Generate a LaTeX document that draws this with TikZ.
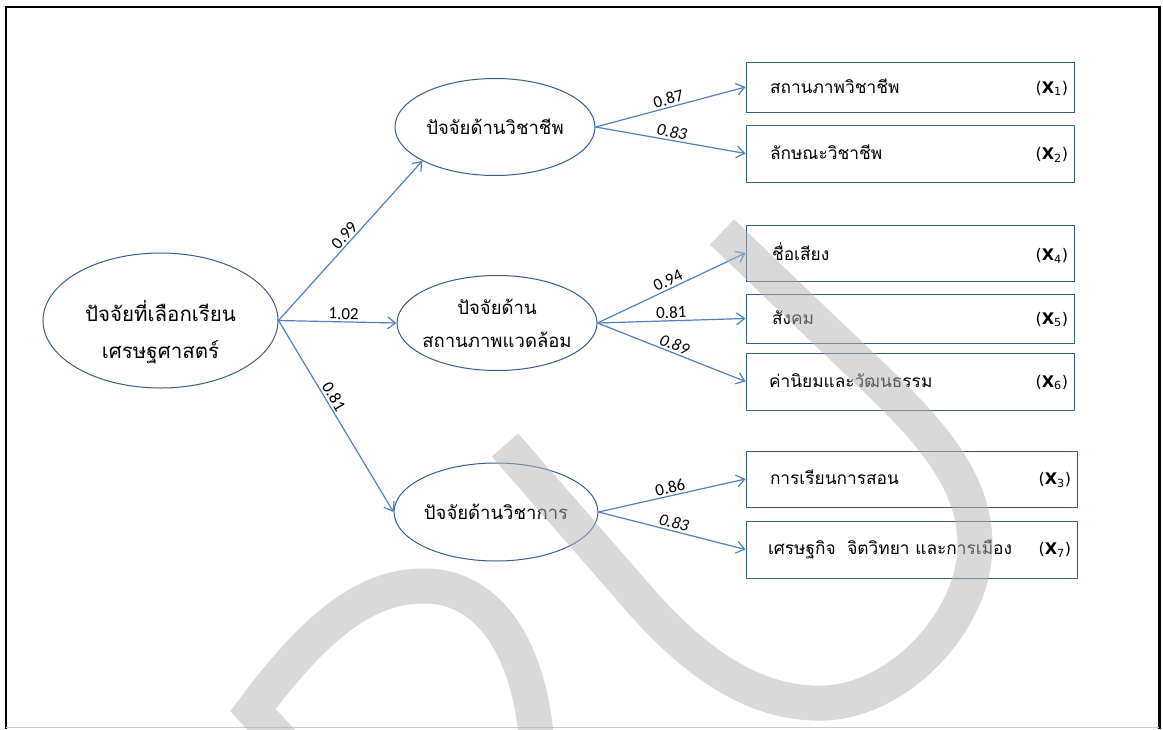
\documentclass[tikz,border=0pt]{standalone}
\usepackage{fontspec}
\newfontfamily\thaifont[Script=Thai]{Loma}
\newfontfamily\numfont{Carlito}
\newfontfamily\xfont{DejaVu Sans}
\usetikzlibrary{shapes.geometric,arrows.meta}

\definecolor{lineblue}{RGB}{79,129,189}
\definecolor{edgeblue}{RGB}{56,93,138}
\definecolor{wmgray}{RGB}{180,180,180}

\newcommand{\xvar}[1]{{\xfont\fontsize{16}{16}\selectfont(\textbf{X}\textsubscript{#1})}}

\tikzset{
  latent/.style={ellipse, draw=edgeblue, line width=1pt, minimum width=200pt,
    minimum height=97pt, inner sep=0pt, align=center,
    font=\thaifont\fontsize{18.5}{33}\selectfont},
  indicator/.style={rectangle, draw=edgeblue, line width=1pt, minimum width=328pt,
    text width=316pt, inner xsep=6pt, inner ysep=0pt, align=left,
    font=\thaifont\fontsize{17.3}{18}\selectfont},
  loadline/.style={draw=lineblue, line width=1.2pt,
    -{Straight Barb[length=8pt,width=12pt]}},
  coef/.style={font=\numfont\fontsize{17}{17}\selectfont, sloped, above, inner sep=2pt},
  wmark/.style={draw=wmgray, opacity=0.5, line width=35pt}
}

\begin{document}
\begin{tikzpicture}[x=1pt, y=-1pt]
\fill[white] ( 0, 0 ) rectangle ( 1163, 729 );
\useasboundingbox ( 0, 0 ) rectangle ( 1163, 729 );

% Rahmen
\draw[line width=2pt] ( 6, 729 ) -- ( 6, 7 ) -- ( 1159, 7 );
\draw[line width=3pt] ( 1159, 6 ) -- ( 1159, 729 );
\draw[black!20] ( 6, 727.5 ) -- ( 1159, 727.5 );

\node[latent, minimum width=235pt, minimum height=135pt,
  font=\thaifont\fontsize{20.5}{37}\selectfont] (econ) at ( 160.5, 320.5 )
  {\raisebox{-12pt}[\height][\depth]{ปัจจัยที่เลือกเรียน}\\\raisebox{-12pt}[\height][\depth]{เศรษฐศาสตร์}};
\node[latent] (career) at ( 495, 127 ) {ปัจจัยด้านวิชาชีพ};
\node[latent, minimum height=95pt] (envir) at ( 497, 323 )
  {\makebox[130pt]{ปัจจัยด้าน}\\\makebox[130pt]{สถานภาพแวดล้อม}};
\node[latent, minimum height=98pt] (acad) at ( 496, 512 ) {ปัจจัยด้านวิชาการ};

\node[indicator, minimum height=50pt] (x1) at ( 910, 87 )
  {\hspace*{18pt}สถานภาพวิชาชีพ\hfill\xvar{1}};
\node[indicator, minimum height=57pt] (x2) at ( 910, 153.5 )
  {\hspace*{18pt}ลักษณะวิชาชีพ\hfill\xvar{2}};
\node[indicator, minimum height=56pt] (x4) at ( 910, 253 )
  {\hspace*{20pt}ชื่อเสียง\hfill\xvar{4}};
\node[indicator, minimum height=49pt] (x5) at ( 910, 318.5 )
  {\hspace*{20pt}สังคม\hfill\xvar{5}};
\node[indicator, minimum height=57pt] (x6) at ( 910, 381.5 )
  {\hspace*{17pt}ค่านิยมและวัฒนธรรม\hfill\xvar{6}};
\node[indicator, minimum height=56pt, minimum width=331pt, text width=319pt] (x3) at ( 911.5, 479 )
  {\hspace*{18pt}การเรียนการสอน\hfill\xvar{3}};
\node[indicator, minimum height=57pt, minimum width=331pt, text width=319pt] (x7) at ( 911.5, 549.5 )
  {\hspace*{16pt}เศรษฐกิจ~~จิตวิทยา และการเมือง\hfill\xvar{7}};

\draw[loadline] (econ.east) -- (career.205) node[coef, midway] {0.99};
\draw[loadline] (econ.east) -- (envir.west) node[coef, pos=0.55] {1.02};
\draw[loadline] (econ.east) -- (acad.west) node[coef, pos=0.42] {0.81};

\draw[loadline] (career.east) -- (x1.west) node[coef, midway] {0.87};
\draw[loadline] (career.east) -- (x2.west) node[coef, midway] {\itshape 0.83};
\draw[loadline] (envir.east) -- (x4.west) node[coef, midway] {0.94};
\draw[loadline] (envir.east) -- (x5.west) node[coef, midway] {0.81};
\draw[loadline] (envir.east) -- (x6.west) node[coef, midway] {\itshape 0.89};
\draw[loadline] (acad.east) -- (x3.west) node[coef, midway] {0.86};
\draw[loadline] (acad.east) -- (x7.west) node[coef, midway] {\itshape 0.83};

% Wasserzeichen
\begin{scope}
\clip ( 0, 0 ) rectangle ( 1163, 729 );
\draw[wmark] ( 505, 445 ) -- ( 640, 600 ) .. controls ( 710, 680 ) and ( 770, 705 ) .. ( 825, 703 )
  .. controls ( 900, 700 ) and ( 975, 620 ) .. ( 975, 545 )
  .. controls ( 975, 480 ) and ( 930, 430 ) .. ( 863, 367 ) -- ( 722, 232 );
\draw[wmark, line join=miter] ( 285, 745 ) -- ( 253, 710 ) .. controls ( 320, 620 ) and ( 370, 585 ) .. ( 426, 586 )
  .. controls ( 490, 587 ) and ( 530, 650 ) .. ( 537, 745 );
\end{scope}

\end{tikzpicture}
\end{document}
